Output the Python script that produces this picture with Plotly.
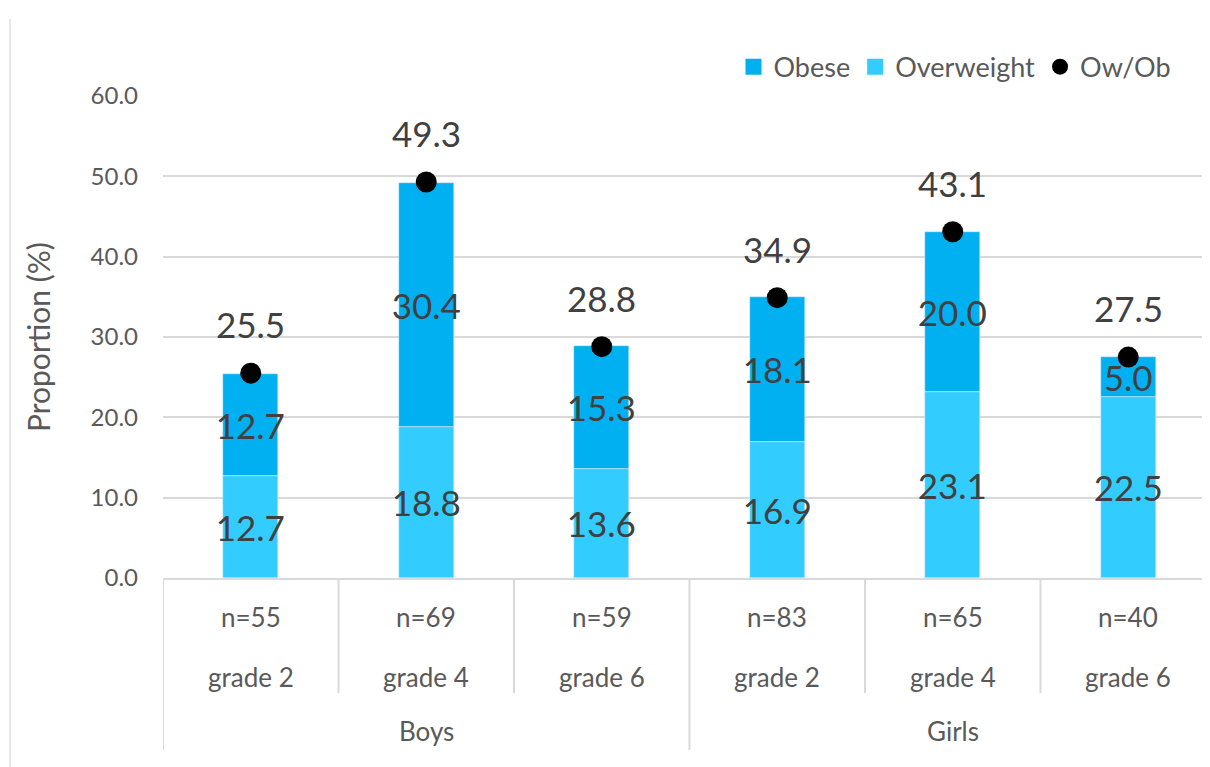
import plotly.graph_objects as go

# ---- data ----
groups = ["Boys", "Boys", "Boys", "Girls", "Girls", "Girls"]
grades = ["grade 2", "grade 4", "grade 6", "grade 2", "grade 4", "grade 6"]
n_labels = ["n=55", "n=69", "n=59", "n=83", "n=65", "n=40"]
overweight = [12.7, 18.8, 13.6, 16.9, 23.1, 22.5]
obese = [12.7, 30.4, 15.3, 18.1, 20.0, 5.0]
ow_ob = [25.5, 49.3, 28.8, 34.9, 43.1, 27.5]

FONT = "Lato"
LABEL_COLOR = "#404040"
TICK_COLOR = "#595959"
GRID = "#D9D9D9"
C_OBESE = "#00B0F0"
C_OVER = "#33CCFF"

x = list(range(len(grades)))
BAR_W = 0.313

fig = go.Figure()
fig.add_trace(go.Bar(
    x=x, y=obese, base=overweight, name="Obese", marker_color=C_OBESE,
    width=BAR_W, text=[f"{v:.1f}" for v in obese], textposition="inside",
    insidetextanchor="middle", textangle=0, constraintext="none",
    insidetextfont=dict(family=FONT, size=35, color=LABEL_COLOR),
    showlegend=False, legendgroup="obese",
))
fig.add_trace(go.Bar(
    x=x, y=overweight, name="Overweight", marker_color=C_OVER,
    width=BAR_W, text=[f"{v:.1f}" for v in overweight], textposition="inside",
    insidetextanchor="middle", textangle=0, constraintext="none",
    insidetextfont=dict(family=FONT, size=35, color=LABEL_COLOR),
    showlegend=False, legendgroup="over",
))
fig.add_trace(go.Scatter(
    x=x, y=ow_ob, name="Ow/Ob", mode="markers",
    marker=dict(color="black", size=21, symbol="circle"),
    showlegend=False, legendgroup="owob",
))
# legend entries (square / circle keys like the original)
for name, col, sym, grp in [("Obese", C_OBESE, "square", "obese"),
                            ("Overweight", C_OVER, "square", "over"),
                            ("Ow/Ob", "black", "circle", "owob")]:
    fig.add_trace(go.Scatter(x=[None], y=[None], mode="markers", name=name,
                             legendgroup=grp,
                             marker=dict(color=col, size=16, symbol=sym)))

annotations = []
for xi, v in zip(x, ow_ob):
    annotations.append(dict(x=xi, y=v, xref="x", yref="y", text=f"{v:.1f}",
                            showarrow=False, yshift=49, yanchor="middle",
                            font=dict(family=FONT, size=35, color=LABEL_COLOR)))
for xi, t in zip(x, n_labels):
    annotations.append(dict(x=xi, y=-0.081, xref="x", yref="paper", text=t,
                            showarrow=False, yanchor="middle", xanchor="center",
                            font=dict(family=FONT, size=26, color=TICK_COLOR)))
for xi, t in zip(x, grades):
    annotations.append(dict(x=xi, y=-0.205, xref="x", yref="paper", text=t,
                            showarrow=False, yanchor="middle", xanchor="center",
                            font=dict(family=FONT, size=26, color=TICK_COLOR)))
uniq = []
for g in groups:
    if g not in uniq:
        uniq.append(g)
shapes = []
for g in uniq:
    idx = [i for i, gg in enumerate(groups) if gg == g]
    annotations.append(dict(x=sum(idx) / len(idx), y=-0.317, xref="x", yref="paper",
                            text=g, showarrow=False, yanchor="middle", xanchor="center",
                            font=dict(family=FONT, size=26, color=TICK_COLOR)))
    shapes.append(dict(type="line", xref="x", yref="paper", x0=min(idx) - 0.5,
                       x1=min(idx) - 0.5, y0=0, y1=-0.357,
                       line=dict(color=GRID, width=2)))
for i in range(1, len(grades)):
    if groups[i] == groups[i - 1]:
        shapes.append(dict(type="line", xref="x", yref="paper", x0=i - 0.5, x1=i - 0.5,
                           y0=0, y1=-0.239, line=dict(color=GRID, width=2)))
annotations.append(dict(x=-0.1194, y=0.5, xref="paper", yref="paper",
                        text="Proportion (%)", textangle=-90, showarrow=False,
                        xanchor="center", yanchor="middle",
                        font=dict(family=FONT, size=30, color=TICK_COLOR)))
shapes.append(dict(type="line", xref="paper", yref="paper", x0=-0.1461, x1=-0.1461,
                   y0=1.16, y1=-0.4, line=dict(color="#D0D0D0", width=1)))

# the page body adds an 8px offset, so the figure is 8px smaller and margins shifted
fig.update_layout(
    width=1202, height=759,
    margin=dict(l=155, r=0, t=88, b=189, autoexpand=False),
    paper_bgcolor="white", plot_bgcolor="white",
    barmode="overlay", bargap=0,
    font=dict(family=FONT, color=TICK_COLOR),
    showlegend=True,
    legend=dict(orientation="h", x=0.968, xanchor="right", y=1.06, yanchor="middle",
                traceorder="normal",
                font=dict(family=FONT, size=27, color=TICK_COLOR),
                itemwidth=30, bgcolor="rgba(0,0,0,0)", tracegroupgap=0),
    annotations=annotations,
    shapes=shapes,
)
# plot area runs past the picture's right edge in the original (category width ~175px)
fig.update_xaxes(range=[-0.5, 5.466], showticklabels=False, showgrid=False,
                 zeroline=False, showline=True, linecolor=GRID, linewidth=2, ticks="",
                 automargin=False)
fig.update_yaxes(range=[0, 60], dtick=10, tickformat=".1f", showgrid=True,
                 gridcolor=GRID, gridwidth=2, zeroline=False, showline=False,
                 ticks="", ticklabelstandoff=24, automargin=False,
                 tickfont=dict(family=FONT, size=24, color=TICK_COLOR))

fig.write_html("out.html")
